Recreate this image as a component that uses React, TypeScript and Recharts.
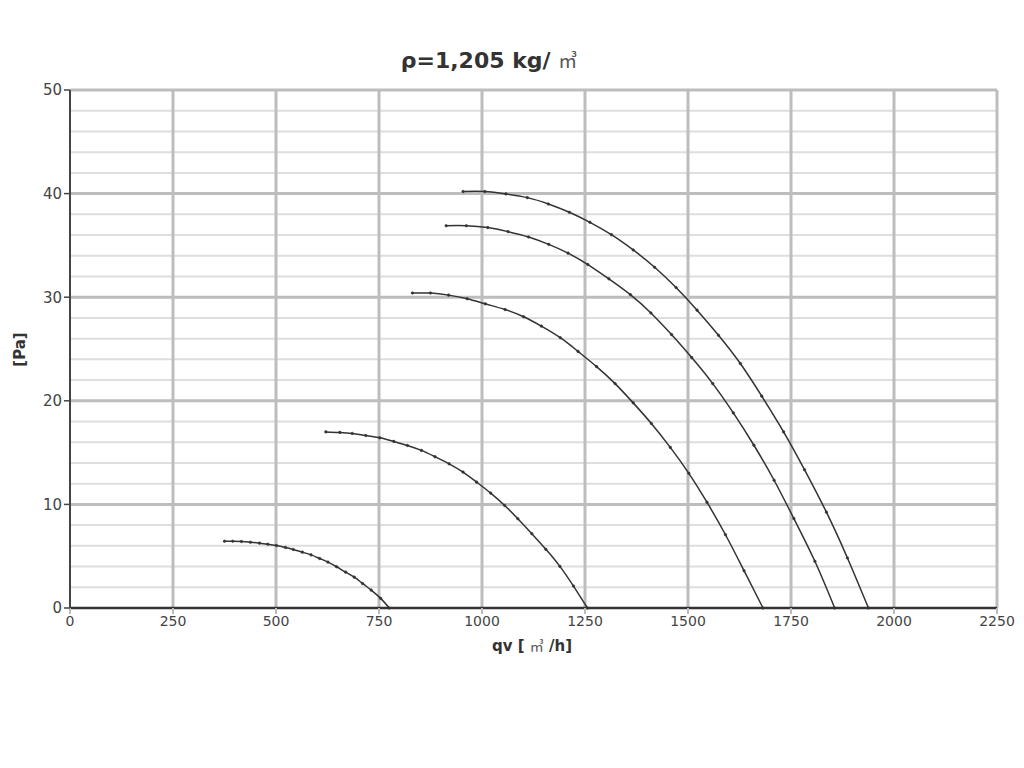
import { LineChart, Line, XAxis, YAxis, ReferenceLine } from "recharts";

const xTicks = [0, 250, 500, 750, 1000, 1250, 1500, 1750, 2000, 2250];
const yTicks = [0, 10, 20, 30, 40, 50];
const yMinor = [2, 4, 6, 8, 12, 14, 16, 18, 22, 24, 26, 28, 32, 34, 36, 38, 42, 44, 46, 48];

// qv [m3/h] and pressure [Pa] for each fan speed curve
const curve1Q = [375, 395, 416, 438, 460, 480, 501, 523, 542, 564, 585, 606, 626, 647, 669, 690, 710, 731, 754, 775];
const curve1P = [6.45, 6.45, 6.42, 6.35, 6.26, 6.16, 6.03, 5.84, 5.65, 5.39, 5.13, 4.78, 4.43, 3.98, 3.46, 2.98, 2.37, 1.73, 0.93, 0];

const curve2Q = [621, 655, 685, 718, 752, 786, 819, 853, 886, 920, 954, 987, 1021, 1055, 1087, 1121, 1155, 1189, 1222, 1256];
const curve2P = [17.0, 16.95, 16.85, 16.65, 16.43, 16.08, 15.69, 15.21, 14.6, 13.92, 13.12, 12.15, 11.09, 9.9, 8.62, 7.17, 5.66, 4.02, 2.12, 0];

const curve3Q = [831, 875, 919, 964, 1008, 1056, 1101, 1144, 1190, 1233, 1278, 1323, 1367, 1411, 1457, 1502, 1546, 1591, 1636, 1682];
const curve3P = [30.4, 30.4, 30.2, 29.85, 29.36, 28.81, 28.11, 27.21, 26.09, 24.77, 23.3, 21.66, 19.8, 17.81, 15.5, 13.0, 10.21, 7.07, 3.6, 0];

const curve4Q = [913, 962, 1014, 1063, 1113, 1162, 1209, 1257, 1308, 1360, 1410, 1460, 1509, 1560, 1610, 1660, 1709, 1757, 1808, 1856];
const curve4P = [36.9, 36.9, 36.72, 36.33, 35.81, 35.1, 34.25, 33.15, 31.77, 30.25, 28.48, 26.39, 24.17, 21.66, 18.83, 15.71, 12.33, 8.63, 4.51, 0];

const curve5Q = [954, 1007, 1058, 1110, 1161, 1212, 1262, 1314, 1367, 1419, 1471, 1522, 1574, 1627, 1679, 1732, 1783, 1836, 1887, 1938];
const curve5P = [40.2, 40.2, 39.97, 39.61, 39.0, 38.2, 37.23, 36.04, 34.56, 32.89, 30.93, 28.75, 26.33, 23.6, 20.45, 17.0, 13.34, 9.25, 4.83, 0];

const toPoints = (q: number[], p: number[]) => q.map((v, i) => ({ q: v, p: p[i] }));

const curves = [
  toPoints(curve1Q, curve1P),
  toPoints(curve2Q, curve2P),
  toPoints(curve3Q, curve3P),
  toPoints(curve4Q, curve4P),
  toPoints(curve5Q, curve5P),
];

const font = "'DejaVu Sans', Verdana, sans-serif";
const cjk = "'Noto Sans CJK JP', 'Noto Sans CJK SC', sans-serif";

export default function App() {
  return (
    <div style={{ position: "relative", width: 1008, height: 752, fontFamily: font, color: "#333" }}>
      <div
        style={{
          position: "absolute",
          left: 0,
          top: 42,
          width: 962,
          textAlign: "center",
          fontSize: 22,
          fontWeight: "bold",
          lineHeight: 1,
          whiteSpace: "nowrap",
        }}
      >
        ρ=1,205 kg/ <span style={{ fontFamily: cjk, fontWeight: "normal", fontSize: 19, color: "#555" }}>㎥</span>
      </div>
      <div
        style={{
          position: "absolute",
          left: 0,
          top: 630,
          width: 1048,
          textAlign: "center",
          fontSize: 15,
          fontWeight: "bold",
          lineHeight: 1,
          whiteSpace: "nowrap",
        }}
      >
        qv [ <span style={{ fontFamily: cjk, fontWeight: "normal", fontSize: 14, color: "#555" }}>㎥</span> /h]
      </div>
      <div
        style={{
          position: "absolute",
          left: 12 - 30,
          top: 342 - 8,
          width: 60,
          textAlign: "center",
          fontSize: 15,
          fontWeight: "bold",
          lineHeight: 1,
          transform: "rotate(-90deg)",
        }}
      >
        [Pa]
      </div>
      <LineChart width={1008} height={700} margin={{ top: 82, right: 19, bottom: 70, left: 22 }}>
        <XAxis
          dataKey="q"
          type="number"
          domain={[0, 2250]}
          ticks={xTicks}
          allowDuplicatedCategory={false}
          axisLine={false}
          tickLine={{ stroke: "#bbb", strokeWidth: 2 }}
          tickSize={6}
          tick={{ fill: "#444", fontSize: 14, fontFamily: font }}
          height={30}
        />
        <YAxis
          type="number"
          domain={[0, 50]}
          ticks={yTicks}
          width={40}
          axisLine={{ stroke: "#444", strokeWidth: 2 }}
          tickLine={{ stroke: "#444", strokeWidth: 1.5 }}
          tickSize={6}
          tick={{ fill: "#444", fontSize: 15, fontFamily: font }}
        />
        {yMinor.map((v) => (
          <ReferenceLine key={"m" + v} y={v} stroke="#dedede" strokeWidth={2} />
        ))}
        {yTicks.filter((v) => v > 0).map((v) => (
          <ReferenceLine key={"y" + v} y={v} stroke="#bdbdbd" strokeWidth={3} />
        ))}
        {xTicks.filter((v) => v > 0).map((v) => (
          <ReferenceLine key={"x" + v} x={v} stroke="#bdbdbd" strokeWidth={3} />
        ))}
        <ReferenceLine y={0} stroke="#333" strokeWidth={2.5} />
        {curves.map((d, i) => (
          <Line
            key={i}
            data={d}
            dataKey="p"
            type="natural"
            stroke="#333"
            strokeWidth={1.5}
            dot={{ r: 1.3, fill: "#333", stroke: "#333", strokeWidth: 0.5 }}
            activeDot={false}
            isAnimationActive={false}
          />
        ))}
      </LineChart>
    </div>
  );
}
